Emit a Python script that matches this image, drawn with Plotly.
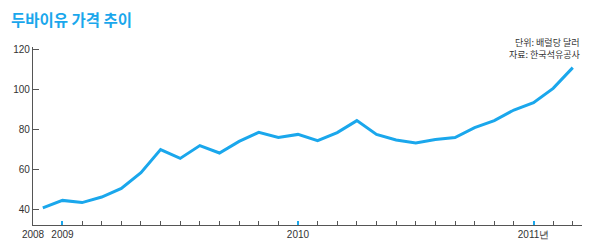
import plotly.graph_objects as go

# Data: monthly Dubai crude price (USD/bbl), Dec 2008 - Mar 2011
months = ["2008-12",
          "2009-01", "2009-02", "2009-03", "2009-04", "2009-05", "2009-06",
          "2009-07", "2009-08", "2009-09", "2009-10", "2009-11", "2009-12",
          "2010-01", "2010-02", "2010-03", "2010-04", "2010-05", "2010-06",
          "2010-07", "2010-08", "2010-09", "2010-10", "2010-11", "2010-12",
          "2011-01", "2011-02", "2011-03"]
prices = [40.6,
          44.3, 43.2, 46.0, 50.3, 58.2, 69.7,
          65.3, 71.7, 68.0, 73.8, 78.3, 75.8,
          77.3, 74.2, 78.2, 84.2, 77.3, 74.5,
          73.0, 74.8, 75.7, 80.7, 84.2, 89.5,
          93.2, 100.3, 110.7]
y_ticks = [40, 60, 80, 100, 120]
year_labels = {"2009-01": "2009", "2010-01": "2010", "2011-01": "2011년"}
origin_label = "2008"

# month index relative to Jan 2009
def midx(s):
    y, m = s.split("-")
    return (int(y) - 2009) * 12 + int(m) - 1

x = [midx(m) for m in months]
x_min, x_max = -1.5, 26.47

tick_months = [m for m in months if midx(m) >= 0]
tickvals = [x_min] + [midx(m) for m in tick_months]
ticktext = [origin_label] + [year_labels.get(m, "") for m in tick_months]
year_vals = [midx(m) for m in year_labels]

BLUE = "#1aa7ec"
DARK = "#333333"

fig = go.Figure()
fig.add_trace(go.Scatter(x=x, y=prices, mode="lines",
                         line=dict(color=BLUE, width=3), hoverinfo="skip"))
# dummy trace for overlay axis (blue year ticks)
fig.add_trace(go.Scatter(x=[x_min], y=[None], xaxis="x2", mode="lines",
                         showlegend=False, hoverinfo="skip"))

fig.update_layout(
    width=590, height=252,
    margin=dict(l=33, r=8, t=47, b=27),
    paper_bgcolor="white", plot_bgcolor="white",
    showlegend=False,
    xaxis=dict(range=[x_min, x_max], tickmode="array", tickvals=tickvals,
               ticktext=ticktext, ticks="inside", ticklen=4, tickwidth=1,
               tickcolor="#555555", showgrid=False, zeroline=False,
               showline=True, linecolor="#555555", linewidth=1.2,
               tickfont=dict(family="Liberation Sans, Arial", size=10, color=DARK),
               fixedrange=True),
    xaxis2=dict(overlaying="x", range=[x_min, x_max], tickmode="array",
                tickvals=year_vals, ticktext=["" for _ in year_vals],
                ticks="inside", ticklen=4, tickwidth=2, tickcolor=BLUE,
                showgrid=False, zeroline=False, showline=False,
                side="bottom", fixedrange=True),
    yaxis=dict(range=[32, 121], tickmode="array", tickvals=y_ticks,
               ticks="inside", ticklen=6, tickwidth=1, tickcolor="#555555",
               showgrid=False, zeroline=False, showline=True,
               linecolor="#555555", linewidth=1.2,
               tickfont=dict(family="Liberation Sans, Arial", size=10, color=DARK),
               fixedrange=True),
    annotations=[
        dict(text="두바이유 가격 추이", xref="paper", yref="paper",
             x=(9 - 33) / 549, y=1 + (47 - 18.5) / 178, xanchor="left", yanchor="middle",
             showarrow=False,
             font=dict(family="Noto Sans CJK KR", size=15.5, color=BLUE, weight="bold")),
        dict(text="단위: 배럴당 달러", xref="paper", yref="paper",
             x=1, y=1 + (47 - 42.5) / 178, xanchor="right", yanchor="middle",
             showarrow=False,
             font=dict(family="Noto Sans CJK KR", size=9, color=DARK)),
        dict(text="자료: 한국석유공사", xref="paper", yref="paper",
             x=1, y=1 + (47 - 54) / 178, xanchor="right", yanchor="middle",
             showarrow=False,
             font=dict(family="Noto Sans CJK KR", size=9, color=DARK)),
    ],
)
fig.write_html("out.html")
